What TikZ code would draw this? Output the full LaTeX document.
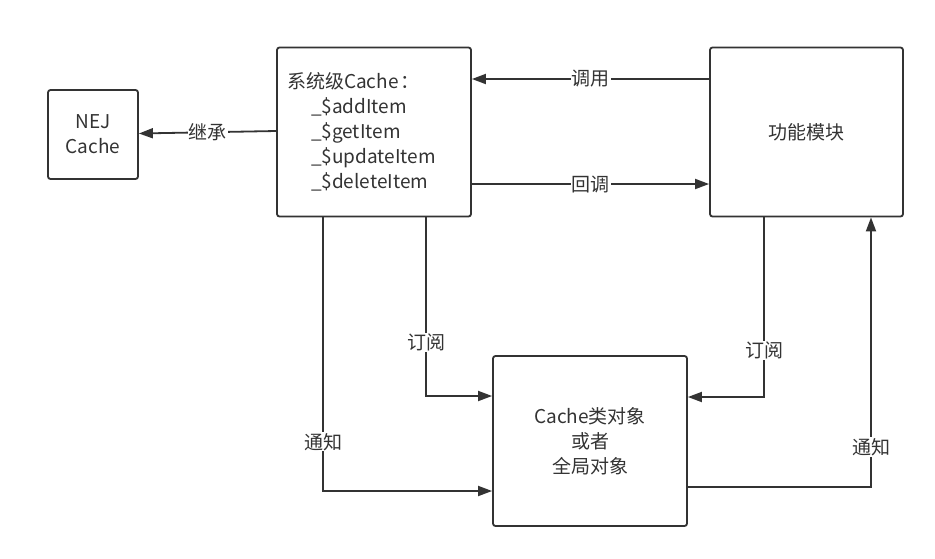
\documentclass[tikz,border=0pt]{standalone}
\usepackage{fontspec}
\setmainfont{Noto Sans CJK SC}
\usetikzlibrary{arrows.meta}
\definecolor{linegray}{HTML}{333333}

\begin{document}
\begin{tikzpicture}[x=1pt,y=-1pt,
    box/.style={draw=linegray, line width=1.8pt, rounded corners=2.5pt, text=linegray,
                font=\fontsize{19}{25}\selectfont, align=center, inner sep=0pt},
    conn/.style={draw=linegray, line width=1.8pt, -{Triangle[length=14pt,width=10pt]}},
    lab/.style={fill=white, text=linegray, inner sep=1pt, font=\fontsize{19}{22}\selectfont}]
        \useasboundingbox (0,0) rectangle (935,558);
        \node[box, minimum width=90pt, minimum height=89pt] (nej) at (93,134.5) {NEJ\\Cache};
        \node[box, minimum width=194pt, minimum height=169pt, text width=174pt, align=left] (sys) at (374,132)
            {系统级Cache\hspace{2pt}：\\\hspace*{24pt}\_\$addItem\\\hspace*{24pt}\_\$getItem\\\hspace*{24pt}\_\$updateItem\\\hspace*{24pt}\_\$deleteItem};
        \node[box, minimum width=193pt, minimum height=169pt] (fun) at (806.5,132) {功能模块};
        \node[box, minimum width=194pt, minimum height=170pt] (obj) at (590,441) {Cache类对象\\或者\\全局对象};
        % top row
        \draw[conn] ([yshift=1pt]sys.west) -- node[lab] {继承} ([yshift=1pt]nej.east);
        \draw[conn] ([yshift=53pt]fun.west) -- node[lab] {调用} ([yshift=53pt]sys.east);
        \draw[conn] ([yshift=-52pt]sys.east) -- node[lab] {回调} ([yshift=-52pt]fun.west);
        % down to the cache object
        \draw[conn] ([xshift=52pt]sys.south) |- node[lab, pos=0.35] {订阅} ([yshift=45pt]obj.west);
        \draw[conn] ([xshift=-51pt]sys.south) |- node[lab, pos=0.41] {通知} ([yshift=-50pt]obj.west);
        \draw[conn] ([xshift=-42.5pt]fun.south) |- node[lab, pos=0.37] {订阅} ([yshift=44pt]obj.east);
        \draw[conn] ([yshift=-46pt]obj.east) -| node[lab, pos=0.574] {通知} ([xshift=64.5pt]fun.south);
\end{tikzpicture}
\end{document}
